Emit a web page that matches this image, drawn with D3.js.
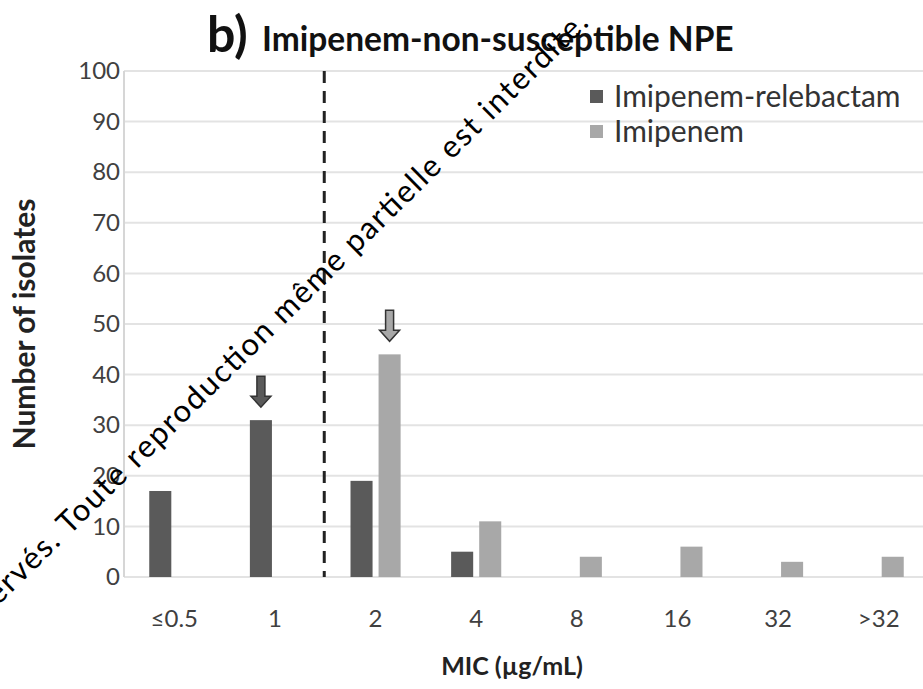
<!DOCTYPE html>
<html>
<head>
<meta charset="utf-8">
<title>Imipenem-non-susceptible NPE</title>
<script src="https://d3js.org/d3.v7.min.js"></script>
<style>
  body { margin: 0; background: #fff; }
  svg { display: block; font-family: Lato, "Open Sans", sans-serif; }
</style>
</head>
<body>
<svg id="chart" width="923" height="689"></svg>
<script>
// MIC categories and isolate counts
let mics = ["≤0.5", "1", "2", "4", "8", "16", "32", ">32"];
let seriesNames = ["Imipenem-relebactam", "Imipenem"];
let relebactamCounts = [17, 31, 19, 5, 0, 0, 0, 0];
let imipenemCounts = [0, 0, 44, 11, 4, 6, 3, 4];
let yTicks = [0, 10, 20, 30, 40, 50, 60, 70, 80, 90, 100];
// arrows mark the MIC90 bar of each series
let arrowMarks = [
    {mic: "1", series: "Imipenem-relebactam"},
    {mic: "2", series: "Imipenem"}
];
let breakpointAfter = "1";

let colors = {"Imipenem-relebactam": "#5a5a5a", "Imipenem": "#a8a8a8"};

let svg = d3.select("#chart");
let plotLeft = 124, plotRight = 929, plotTop = 71, plotBottom = 577;

let x0 = d3.scaleBand().domain(mics).range([plotLeft, plotRight]);
let x1 = d3.scaleBand().domain(seriesNames)
    .range([0, x0.bandwidth()]).paddingInner(0.214).paddingOuter(0.9);
let y = d3.scaleLinear().domain([0, 100]).range([plotBottom, plotTop]);

// gridlines
svg.append("g").selectAll("line")
    .data(yTicks)
    .join("line")
    .attr("x1", plotLeft).attr("x2", plotRight)
    .attr("y1", d => y(d)).attr("y2", d => y(d))
    .attr("stroke", "#e3e3e3").attr("stroke-width", 2);

// y axis line
svg.append("line")
    .attr("x1", plotLeft).attr("x2", plotLeft)
    .attr("y1", y(100)).attr("y2", y(0))
    .attr("stroke", "#d6d6d6").attr("stroke-width", 2);

// y tick labels
let yAxis = d3.axisLeft(y).tickValues(yTicks).tickSize(0).tickPadding(4);
svg.append("g")
    .attr("transform", `translate(${plotLeft},0)`)
    .call(yAxis)
    .call(g => g.select(".domain").remove())
    .selectAll("text")
    .attr("font-size", 24).attr("fill", "#404040")
    .attr("font-family", "Lato, sans-serif");

// x tick labels
let xAxis = d3.axisBottom(x0).tickSize(0).tickPadding(33);
svg.append("g")
    .attr("transform", `translate(0,${plotBottom})`)
    .call(xAxis)
    .call(g => g.select(".domain").remove())
    .selectAll("text")
    .attr("font-size", 24).attr("fill", "#404040")
    .attr("font-family", "Lato, sans-serif");

// bars
let rows = mics.map((m, i) => ({
    mic: m,
    values: [
        {series: "Imipenem-relebactam", value: relebactamCounts[i]},
        {series: "Imipenem", value: imipenemCounts[i]}
    ]
}));

svg.append("g").selectAll("g")
    .data(rows)
    .join("g")
    .attr("transform", d => `translate(${x0(d.mic)},0)`)
    .selectAll("rect")
    .data(d => d.values.filter(v => v.value > 0))
    .join("rect")
    .attr("x", d => x1(d.series))
    .attr("width", x1.bandwidth())
    .attr("y", d => y(d.value))
    .attr("height", d => y(0) - y(d.value))
    .attr("fill", d => colors[d.series]);

// dashed breakpoint line
svg.append("line")
    .attr("x1", x0(breakpointAfter) + x0.bandwidth() - 1)
    .attr("x2", x0(breakpointAfter) + x0.bandwidth() - 1)
    .attr("y1", y(100)).attr("y2", y(0))
    .attr("stroke", "#222").attr("stroke-width", 3)
    .attr("stroke-dasharray", "12,8");

// down arrows over MIC90 bars (tip at the origin, pointing down)
let arrowPath = "M-4,-31 L4,-31 L4,-11 L10,-11 L0,0 L-10,-11 L-4,-11 Z";
svg.append("g").selectAll("path")
    .data(arrowMarks)
    .join("path")
    .attr("d", arrowPath)
    .attr("transform", d => {
        let i = mics.indexOf(d.mic);
        let v = d.series === "Imipenem" ? imipenemCounts[i] : relebactamCounts[i];
        let cx = x0(d.mic) + x1(d.series) + x1.bandwidth() / 2;
        return `translate(${cx},${y(v) - 13})`;
    })
    .attr("fill", d => colors[d.series])
    .attr("stroke", "#333").attr("stroke-width", 1.5);

// legend
let legend = svg.append("g").selectAll("g")
    .data(seriesNames)
    .join("g")
    .attr("transform", (d, i) => `translate(590,${96 + i * 35})`);
legend.append("rect")
    .attr("x", 0).attr("y", -6).attr("width", 13).attr("height", 13)
    .attr("fill", d => colors[d]);
legend.append("text")
    .attr("x", 24).attr("y", 0).attr("dy", "0.35em")
    .attr("font-size", 30).attr("fill", "#333")
    .text(d => d);

// title
svg.append("text")
    .attr("x", 207).attr("y", 52)
    .attr("font-size", 50).attr("font-weight", "bold").attr("fill", "#111")
    .text("b)");
svg.append("text")
    .attr("x", 262).attr("y", 51)
    .attr("font-size", 33.5).attr("font-weight", "bold").attr("fill", "#111")
    .text("Imipenem-non-susceptible NPE");

// axis titles
svg.append("text")
    .attr("transform", "translate(35,324) rotate(-90)")
    .attr("text-anchor", "middle")
    .attr("font-size", 30).attr("font-weight", "bold").attr("fill", "#222")
    .text("Number of isolates");
svg.append("text")
    .attr("x", 512).attr("y", 675)
    .attr("text-anchor", "middle")
    .attr("font-size", 25).attr("font-weight", "bold").attr("fill", "#222")
    .text("MIC (µg/mL)");

// watermark
svg.append("text")
    .attr("transform", "translate(-2,606) rotate(-44.5)")
    .attr("font-size", 31).attr("fill", "#000")
    .attr("textLength", 830).attr("lengthAdjust", "spacing")
    .text("ervés. Toute reproduction même partielle est interdite.");
</script>
</body>
</html>
